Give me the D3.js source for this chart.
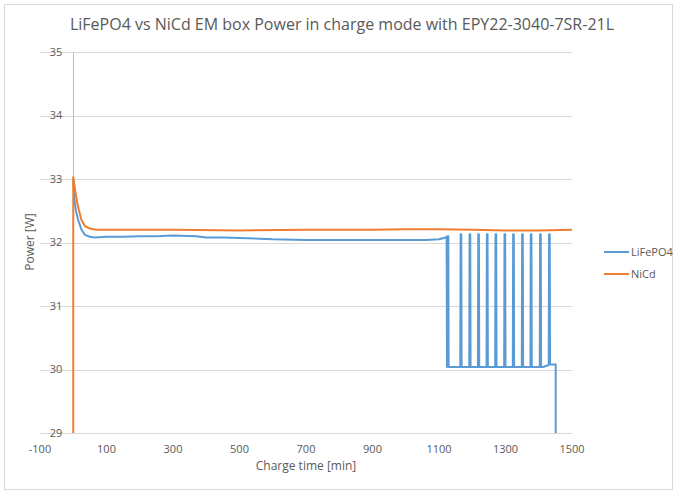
<!DOCTYPE html>
<html lang="en">
<head>
    <meta charset="UTF-8">
    <title>LiFePO4 vs NiCd EM box Power</title>
    <script src="https://d3js.org/d3.v7.min.js"></script>
    <style>
        body { margin: 0; background: #fff; }
        text { font-family: "Open Sans", "Liberation Sans", sans-serif; fill: #595959; }
    </style>
</head>
<body>
    <div id="chart"></div>
    <script>
        // chart texts
        const chartTitle = 'LiFePO4 vs NiCd EM box Power in charge mode with EPY22-3040-7SR-21L';
        const xTitle = 'Charge time [min]';
        const yTitle = 'Power [W]';
        const xTicks = [-100, 100, 300, 500, 700, 900, 1100, 1300, 1500];
        const yTicks = [29, 30, 31, 32, 33, 34, 35];

        // LiFePO4 series [min, W]
        const lifepo4 = [
            [0, 33.0], [3, 32.7], [8, 32.5], [15, 32.35], [25, 32.2], [35, 32.12],
            [50, 32.09], [65, 32.08], [100, 32.09], [150, 32.09], [200, 32.1],
            [250, 32.1], [300, 32.11], [370, 32.1], [400, 32.08], [450, 32.08],
            [500, 32.07], [560, 32.06], [600, 32.05], [700, 32.04], [800, 32.04],
            [900, 32.04], [1000, 32.04], [1060, 32.04], [1100, 32.05], [1120, 32.08],
            [1123, 32.09], [1124, 30.04], [1125, 32.1], [1128, 32.1], [1129, 30.04],
            [1164, 30.04], [1165, 32.13], [1167, 32.13], [1168, 30.04],
            [1191, 30.04], [1192, 32.13], [1194, 32.13], [1195, 30.04],
            [1217, 30.04], [1218, 32.13], [1220, 32.13], [1221, 30.04],
            [1243, 30.04], [1244, 32.13], [1246, 32.13], [1247, 30.04],
            [1269, 30.04], [1270, 32.13], [1272, 32.13], [1273, 30.04],
            [1296, 30.04], [1297, 32.13], [1299, 32.13], [1300, 30.04],
            [1322, 30.04], [1323, 32.13], [1325, 32.13], [1326, 30.04],
            [1349, 30.04], [1350, 32.13], [1352, 32.13], [1353, 30.04],
            [1375, 30.04], [1376, 32.13], [1378, 32.13], [1379, 30.04],
            [1403, 30.04], [1404, 32.13], [1406, 32.13], [1407, 30.04],
            [1413, 30.04], [1430, 30.07], [1431, 32.13], [1433, 32.13], [1434, 30.08],
            [1451, 30.08], [1451, 28.5]
        ];

        // NiCd series [min, W]
        const nicd = [
            [0, 28.5], [0, 33.03], [5, 32.85], [10, 32.68], [15, 32.55], [25, 32.35],
            [35, 32.26], [50, 32.22], [70, 32.2], [150, 32.2], [300, 32.2],
            [500, 32.19], [700, 32.2], [900, 32.2], [1000, 32.21], [1100, 32.21],
            [1200, 32.2], [1300, 32.19], [1400, 32.19], [1500, 32.2]
        ];

        const series = [
            { name: 'LiFePO4', color: '#5b9bd5', values: lifepo4 },
            { name: 'NiCd', color: '#ed7d31', values: nicd }
        ];

        const width = 677;
        const height = 492;

        const svg = d3.select('#chart').append('svg')
            .attr('width', width)
            .attr('height', height);

        // outer chart border
        svg.append('rect')
            .attr('x', 4.5).attr('y', 4.5)
            .attr('width', 668).attr('height', 485)
            .attr('fill', 'none')
            .attr('stroke', '#d9d9d9');

        const x = d3.scaleLinear().domain([-100, 1500]).range([40, 572]);
        const y = d3.scaleLinear().domain([29, 35]).range([433, 52]);

        // horizontal gridlines
        svg.append('g')
            .selectAll('line')
            .data(yTicks)
            .enter().append('line')
            .attr('x1', x(-100)).attr('x2', x(1500))
            .attr('y1', d => Math.round(y(d)) + 0.5)
            .attr('y2', d => Math.round(y(d)) + 0.5)
            .attr('stroke', '#d9d9d9');

        // y axis line sits at x = 0
        svg.append('line')
            .attr('x1', Math.round(x(0)) + 0.5).attr('x2', Math.round(x(0)) + 0.5)
            .attr('y1', y(35)).attr('y2', y(29))
            .attr('stroke', '#bfbfbf');

        // y tick labels
        svg.append('g')
            .selectAll('text')
            .data(yTicks)
            .enter().append('text')
            .attr('x', x(0) - 11)
            .attr('y', d => y(d))
            .attr('dy', '0.35em')
            .attr('text-anchor', 'end')
            .style('font-size', '11px')
            .text(d => d);

        // x tick labels
        svg.append('g')
            .selectAll('text')
            .data(xTicks)
            .enter().append('text')
            .attr('x', d => x(d))
            .attr('y', 453)
            .attr('text-anchor', 'middle')
            .style('font-size', '11px')
            .text(d => d);

        // clip lines to the plot area
        svg.append('clipPath').attr('id', 'plot')
            .append('rect')
            .attr('x', x(-100)).attr('y', y(35))
            .attr('width', x(1500) - x(-100))
            .attr('height', y(29) - y(35));

        const line = d3.line()
            .x(d => x(d[0]))
            .y(d => y(d[1]));

        svg.append('g')
            .attr('clip-path', 'url(#plot)')
            .selectAll('path')
            .data(series)
            .enter().append('path')
            .attr('d', d => line(d.values))
            .attr('fill', 'none')
            .attr('stroke', d => d.color)
            .attr('stroke-width', 2)
            .attr('stroke-linejoin', 'round');

        // titles
        svg.append('text')
            .attr('x', 342).attr('y', 30)
            .attr('text-anchor', 'middle')
            .style('font-size', '16px')
            .text(chartTitle);

        svg.append('text')
            .attr('x', 306).attr('y', 470)
            .attr('text-anchor', 'middle')
            .style('font-size', '12px')
            .text(xTitle);

        svg.append('text')
            .attr('transform', 'translate(34,242) rotate(-90)')
            .attr('text-anchor', 'middle')
            .style('font-size', '12px')
            .text(yTitle);

        // legend
        const legend = svg.append('g')
            .selectAll('g')
            .data(series)
            .enter().append('g')
            .attr('transform', (d, i) => `translate(604,${252 + i * 22})`);

        legend.append('line')
            .attr('x1', 0).attr('x2', 25)
            .attr('stroke', d => d.color)
            .attr('stroke-width', 2);

        legend.append('text')
            .attr('x', 27)
            .attr('dy', '0.35em')
            .style('font-size', '11px')
            .text(d => d.name);
    </script>
</body>
</html>
